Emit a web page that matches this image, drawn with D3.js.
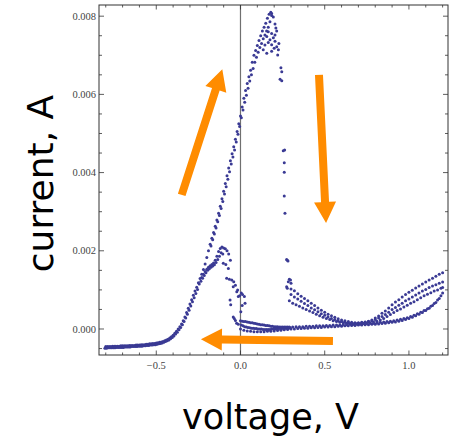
<!DOCTYPE html>
<html>
<head>
<meta charset="utf-8">
<script src="https://cdn.jsdelivr.net/npm/d3@7/dist/d3.min.js"></script>
<style>
  body { margin: 0; background: #fff; }
</style>
</head>
<body>
<div id="vis"></div>
<script>
// cyclic voltammogram, points (voltage V, current mA)

let baseline1 = [[-0.80,-0.45],[-0.79,-0.45],[-0.78,-0.45],[-0.77,-0.45],[-0.76,-0.44],[-0.75,-0.44],[-0.74,-0.44],[-0.73,-0.44],[-0.72,-0.44],[-0.71,-0.43],[-0.70,-0.43],[-0.69,-0.43],[-0.68,-0.43],[-0.67,-0.43],[-0.66,-0.42],[-0.65,-0.42],[-0.64,-0.42],[-0.63,-0.42],[-0.62,-0.41],[-0.61,-0.41],[-0.60,-0.41],[-0.59,-0.40],[-0.58,-0.40],[-0.57,-0.40],[-0.56,-0.39],[-0.55,-0.39],[-0.54,-0.38],[-0.53,-0.38],[-0.52,-0.37],[-0.51,-0.37],[-0.50,-0.36],[-0.49,-0.35],[-0.48,-0.34],[-0.47,-0.33],[-0.46,-0.32],[-0.45,-0.30],[-0.44,-0.28],[-0.43,-0.26],[-0.42,-0.23],[-0.41,-0.20],[-0.40,-0.16],[-0.39,-0.11],[-0.38,-0.06],[-0.37,0.00],[-0.36,0.06],[-0.35,0.13],[-0.34,0.21]];

let baseline2 = [[-0.805,-0.49],[-0.795,-0.49],[-0.785,-0.48],[-0.775,-0.48],[-0.765,-0.48],[-0.755,-0.48],[-0.745,-0.48],[-0.735,-0.47],[-0.725,-0.47],[-0.715,-0.47],[-0.705,-0.47],[-0.695,-0.47],[-0.685,-0.46],[-0.675,-0.46],[-0.665,-0.46],[-0.655,-0.46],[-0.645,-0.45],[-0.635,-0.45],[-0.625,-0.45],[-0.615,-0.45],[-0.605,-0.44],[-0.595,-0.44],[-0.585,-0.44],[-0.575,-0.43],[-0.565,-0.43],[-0.555,-0.42],[-0.545,-0.42],[-0.535,-0.41],[-0.525,-0.41],[-0.515,-0.40],[-0.505,-0.40],[-0.495,-0.39],[-0.485,-0.38],[-0.475,-0.37],[-0.465,-0.36],[-0.455,-0.34],[-0.445,-0.32],[-0.435,-0.30],[-0.425,-0.28],[-0.415,-0.25],[-0.405,-0.22],[-0.395,-0.18],[-0.385,-0.13],[-0.375,-0.08],[-0.365,-0.02],[-0.355,0.04],[-0.345,0.11],[-0.335,0.19]];

let riseUpper1 = [[-0.33,0.31],[-0.32,0.42],[-0.31,0.53],[-0.30,0.64],[-0.29,0.75],[-0.28,0.86],[-0.27,0.97],[-0.26,1.07],[-0.25,1.18],[-0.24,1.29],[-0.23,1.40],[-0.22,1.52],[-0.21,1.66],[-0.20,1.83],[-0.19,2.00],[-0.18,2.17],[-0.17,2.32],[-0.16,2.47],[-0.15,2.63],[-0.14,2.79],[-0.13,2.96],[-0.12,3.14],[-0.11,3.33],[-0.10,3.52],[-0.09,3.72],[-0.08,3.92],[-0.07,4.12],[-0.06,4.30],[-0.05,4.48],[-0.04,4.66],[-0.03,4.85],[-0.02,5.05],[-0.01,5.25],[0.00,5.45],[0.01,5.68],[0.02,5.90],[0.03,6.10],[0.04,6.28],[0.05,6.45],[0.06,6.62],[0.07,6.82],[0.08,7.00],[0.09,7.12],[0.10,7.25],[0.11,7.38],[0.12,7.50],[0.13,7.62],[0.14,7.72],[0.15,7.82],[0.16,7.95],[0.17,8.05],[0.18,8.10]];

let riseUpper2 = [[-0.175,2.12],[-0.165,2.28],[-0.155,2.43],[-0.145,2.58],[-0.135,2.74],[-0.125,2.90],[-0.115,3.08],[-0.105,3.26],[-0.095,3.45],[-0.085,3.64],[-0.075,3.83],[-0.065,4.02],[-0.055,4.22],[-0.045,4.40],[-0.035,4.58],[-0.025,4.78],[-0.015,4.98],[-0.005,5.18],[0.005,5.40],[0.015,5.60],[0.025,5.80],[0.035,5.98],[0.045,6.16],[0.055,6.34],[0.065,6.50],[0.075,6.66],[0.085,6.82],[0.095,6.95],[0.105,7.08],[0.115,7.20],[0.125,7.30],[0.135,7.42],[0.145,7.52],[0.155,7.62],[0.165,7.72],[0.175,7.86],[0.185,8.02]];

let peakCluster = [[0.185,8.07],[0.195,7.98],[0.205,7.80],[0.165,7.60],[0.185,7.56],[0.205,7.52],[0.156,7.48],[0.175,7.40],[0.165,7.33],[0.185,7.27],[0.205,7.36],[0.195,7.45],[0.215,7.22],[0.225,7.14],[0.221,7.01],[0.156,7.05],[0.185,7.10],[0.135,7.14],[0.145,7.26],[0.200,7.18],[0.215,7.62],[0.210,7.70],[0.228,7.30]];

let dropPoints = [[0.240,6.68],[0.245,6.58],[0.235,6.39],[0.245,6.35],[0.254,4.56],[0.262,4.58],[0.260,4.25],[0.260,4.01],[0.260,3.40],[0.264,2.96],[0.274,1.78],[0.282,1.74],[0.278,1.76],[0.290,1.27],[0.297,1.25],[0.284,1.21],[0.300,1.17],[0.274,1.08],[0.278,1.04]];

let riseSteep2 = [[-0.325,0.28],[-0.315,0.38],[-0.305,0.48],[-0.295,0.59],[-0.285,0.70],[-0.275,0.80],[-0.265,0.91],[-0.255,1.01]];

let lowerPeakA = [[-0.23,1.32],[-0.22,1.40],[-0.21,1.47],[-0.20,1.53],[-0.19,1.58],[-0.18,1.62],[-0.17,1.65],[-0.16,1.69],[-0.15,1.76],[-0.14,1.86],[-0.13,1.98],[-0.12,2.06],[-0.11,2.10],[-0.10,2.07],[-0.09,2.05],[-0.08,2.00],[-0.07,1.92],[-0.06,1.76]];

let lowerPeakB = [[-0.245,1.15],[-0.235,1.22],[-0.225,1.30],[-0.215,1.37],[-0.205,1.44],[-0.195,1.50],[-0.185,1.54],[-0.175,1.58],[-0.165,1.61],[-0.155,1.64],[-0.145,1.70],[-0.135,1.78],[-0.125,1.86],[-0.115,1.95],[-0.105,1.92]];

let lowerFall = [[-0.102,1.68],[-0.087,1.65],[-0.072,1.55],[-0.082,1.30],[-0.066,1.27],[-0.052,1.25],[-0.040,1.21],[-0.043,1.08],[-0.030,1.12],[-0.017,1.00],[-0.022,0.95],[-0.013,0.83],[-0.005,0.85],[0.005,0.92],[0.012,0.88],[0.023,0.83],[0.027,0.66],[0.010,0.60],[-0.062,0.74],[-0.058,0.62],[-0.043,0.31],[-0.037,0.27],[-0.030,0.22],[-0.023,0.15],[-0.013,0.12],[0.002,0.44]];

let nearZeroA = [[0.00,0.21],[0.01,0.20],[0.02,0.19],[0.03,0.19],[0.04,0.18],[0.05,0.17],[0.06,0.16],[0.07,0.16],[0.08,0.15],[0.09,0.14],[0.10,0.13],[0.11,0.12],[0.12,0.11],[0.13,0.11],[0.14,0.10],[0.15,0.09],[0.16,0.09],[0.17,0.08],[0.18,0.07],[0.19,0.07],[0.20,0.06],[0.21,0.06],[0.22,0.06],[0.23,0.05],[0.24,0.05],[0.25,0.05],[0.26,0.05],[0.27,0.05],[0.28,0.05],[0.29,0.05]];

let nearZeroB = [[0.005,0.10],[0.015,0.08],[0.025,0.06],[0.035,0.05],[0.045,0.04],[0.055,0.03],[0.065,0.02],[0.075,0.02],[0.085,0.01],[0.095,0.01],[0.105,0.00],[0.115,0.00],[0.125,0.00],[0.135,-0.01],[0.145,-0.01],[0.155,-0.01],[0.165,-0.01],[0.175,-0.01],[0.185,0.00],[0.195,0.00],[0.205,0.00],[0.215,0.00],[0.225,0.01],[0.235,0.01],[0.245,0.01],[0.255,0.02],[0.265,0.02],[0.275,0.02],[0.285,0.02],[0.295,0.03]];

let decayUpper = [[0.30,1.02],[0.32,0.98],[0.34,0.90],[0.36,0.84],[0.38,0.78],[0.40,0.72],[0.42,0.66],[0.44,0.60],[0.46,0.54],[0.48,0.48],[0.50,0.43],[0.52,0.38],[0.54,0.34],[0.56,0.30],[0.58,0.26],[0.60,0.23],[0.62,0.21],[0.64,0.19],[0.66,0.17],[0.68,0.16],[0.70,0.16],[0.72,0.17],[0.74,0.18],[0.76,0.20],[0.78,0.23],[0.80,0.28],[0.82,0.33],[0.84,0.40],[0.86,0.46],[0.88,0.54],[0.90,0.62],[0.92,0.69],[0.94,0.75],[0.96,0.82],[0.98,0.88],[1.00,0.94],[1.02,0.99],[1.04,1.05],[1.06,1.10],[1.08,1.15],[1.10,1.20],[1.12,1.25],[1.14,1.30],[1.16,1.35],[1.18,1.40],[1.20,1.44]];

let decayMiddle = [[0.30,0.88],[0.32,0.82],[0.34,0.77],[0.36,0.71],[0.38,0.65],[0.40,0.60],[0.42,0.54],[0.44,0.49],[0.46,0.44],[0.48,0.39],[0.50,0.35],[0.52,0.31],[0.54,0.27],[0.56,0.24],[0.58,0.21],[0.60,0.19],[0.62,0.17],[0.64,0.16],[0.66,0.15],[0.68,0.15],[0.70,0.15],[0.72,0.16],[0.74,0.17],[0.76,0.19],[0.78,0.21],[0.80,0.24],[0.82,0.28],[0.84,0.32],[0.86,0.37],[0.88,0.43],[0.90,0.50],[0.92,0.55],[0.94,0.61],[0.96,0.66],[0.98,0.72],[1.00,0.77],[1.02,0.82],[1.04,0.87],[1.06,0.92],[1.08,0.97],[1.10,1.01],[1.12,1.06],[1.14,1.10],[1.16,1.13],[1.18,1.17],[1.20,1.20]];

let decayLower = [[0.29,0.72],[0.31,0.66],[0.33,0.62],[0.35,0.58],[0.37,0.54],[0.39,0.50],[0.41,0.46],[0.43,0.42],[0.45,0.38],[0.47,0.34],[0.49,0.30],[0.51,0.27],[0.53,0.24],[0.55,0.21],[0.57,0.19],[0.59,0.17],[0.61,0.16],[0.63,0.15],[0.65,0.14],[0.67,0.13],[0.69,0.13],[0.71,0.13],[0.73,0.14],[0.75,0.15],[0.77,0.16],[0.79,0.18],[0.81,0.20],[0.83,0.23],[0.85,0.27],[0.87,0.32],[0.89,0.37],[0.91,0.42],[0.93,0.47],[0.95,0.51],[0.97,0.56],[0.99,0.61],[1.01,0.66],[1.03,0.70],[1.05,0.75],[1.07,0.80],[1.09,0.85],[1.11,0.89],[1.13,0.93],[1.15,0.97],[1.17,1.00],[1.19,1.04],[1.20,1.06]];

let return1 = [[1.20,0.92],[1.18,0.78],[1.16,0.68],[1.14,0.60],[1.12,0.53],[1.10,0.47],[1.08,0.42],[1.06,0.38],[1.04,0.34],[1.02,0.30],[1.00,0.27],[0.98,0.24],[0.96,0.22],[0.94,0.20],[0.92,0.18],[0.90,0.17],[0.88,0.16],[0.86,0.15],[0.84,0.14],[0.82,0.13],[0.80,0.12],[0.78,0.12],[0.76,0.11],[0.74,0.11],[0.72,0.10],[0.70,0.10],[0.68,0.09],[0.66,0.09],[0.64,0.08],[0.62,0.08],[0.60,0.07],[0.58,0.07],[0.56,0.06],[0.54,0.06],[0.52,0.05],[0.50,0.05],[0.48,0.04],[0.46,0.04],[0.44,0.03],[0.42,0.03],[0.40,0.02],[0.38,0.02],[0.36,0.01],[0.34,0.01],[0.32,0.00],[0.30,0.00],[0.28,-0.01],[0.26,-0.02],[0.24,-0.03],[0.22,-0.04],[0.20,-0.05],[0.18,-0.06],[0.16,-0.06],[0.14,-0.07],[0.12,-0.07],[0.10,-0.07],[0.08,-0.07],[0.06,-0.06],[0.04,-0.05],[0.02,-0.03],[0.00,0.00]];

let return2 = [[1.19,0.85],[1.17,0.74],[1.15,0.65],[1.13,0.58],[1.11,0.52],[1.09,0.47],[1.07,0.43],[1.05,0.39],[1.03,0.35],[1.01,0.32],[0.99,0.29],[0.97,0.27],[0.95,0.25],[0.93,0.23],[0.91,0.21],[0.89,0.20],[0.87,0.19],[0.85,0.18],[0.83,0.17],[0.81,0.16],[0.79,0.15],[0.77,0.15],[0.75,0.14],[0.73,0.14],[0.71,0.13],[0.69,0.13],[0.67,0.12],[0.65,0.12],[0.63,0.11],[0.61,0.11],[0.59,0.10],[0.57,0.10],[0.55,0.10],[0.53,0.09],[0.51,0.09],[0.49,0.08],[0.47,0.08],[0.45,0.08],[0.43,0.07],[0.41,0.07],[0.39,0.07],[0.37,0.06],[0.35,0.06],[0.33,0.06],[0.31,0.05]];

// ticks
let xMajor = [-0.5, 0, 0.5, 1.0];
let xLabels = ["\u22120.5", "0.0", "0.5", "1.0"];
let xMinor = [-0.8,-0.7,-0.6,-0.4,-0.3,-0.2,-0.1,0.1,0.2,0.3,0.4,0.6,0.7,0.8,0.9,1.1,1.2];
let yMajor = [0, 2, 4, 6, 8];
let yLabels = ["0.000", "0.002", "0.004", "0.006", "0.008"];
let yMinor = [-0.5,0.5,1,1.5,2.5,3,3.5,4.5,5,5.5,6.5,7,7.5];

// arrows: [tail, tip] in data units
let arrows = [
  [[-0.349, 3.43], [-0.108, 6.64]],
  [[0.466, 6.50], [0.508, 2.71]],
  [[0.549, -0.31], [-0.235, -0.26]]
];

let allPoints = [].concat(baseline1, baseline2, riseUpper1, riseUpper2, peakCluster, dropPoints,
  riseSteep2, lowerPeakA, lowerPeakB, lowerFall, nearZeroA, nearZeroB,
  decayUpper, decayMiddle, decayLower, return1, return2);

let W = 452, H = 437;
let frame = { left: 99, right: 448, top: 5, bottom: 355 };

let svg = d3.select('#vis')
  .append('svg')
  .attr('width', W)
  .attr('height', H)
  .style('background-color', 'white');

let x = d3.scaleLinear().domain([-0.84, 1.232]).range([frame.left, frame.right]);
let y = d3.scaleLinear().domain([-0.665, 8.286]).range([frame.bottom, frame.top]);

svg.append('defs').append('clipPath').attr('id', 'clip')
  .append('rect')
  .attr('x', frame.left).attr('y', frame.top)
  .attr('width', frame.right - frame.left).attr('height', frame.bottom - frame.top);

// zero line
svg.append('line')
  .attr('x1', x(0)).attr('x2', x(0))
  .attr('y1', frame.top).attr('y2', frame.bottom)
  .attr('stroke', '#707070')
  .attr('stroke-width', 1.2);

// points
svg.append('g')
  .attr('clip-path', 'url(#clip)')
  .selectAll('circle')
  .data(allPoints)
  .join('circle')
  .attr('cx', d => x(d[0]))
  .attr('cy', d => y(d[1]))
  .attr('r', 1.5)
  .attr('fill', '#3a3a94');

// frame
let frameColor = '#333';
svg.append('rect')
  .attr('x', frame.left).attr('y', frame.top)
  .attr('width', frame.right - frame.left).attr('height', frame.bottom - frame.top)
  .attr('fill', 'none')
  .attr('stroke', frameColor)
  .attr('stroke-width', 1);

let ticks = svg.append('g').attr('stroke', frameColor).attr('stroke-width', 0.8);
function xTick(v, len) {
  ticks.append('line').attr('x1', x(v)).attr('x2', x(v)).attr('y1', frame.bottom).attr('y2', frame.bottom - len);
  ticks.append('line').attr('x1', x(v)).attr('x2', x(v)).attr('y1', frame.top).attr('y2', frame.top + len);
}
function yTick(v, len) {
  ticks.append('line').attr('y1', y(v)).attr('y2', y(v)).attr('x1', frame.left).attr('x2', frame.left + len);
  ticks.append('line').attr('y1', y(v)).attr('y2', y(v)).attr('x1', frame.right).attr('x2', frame.right - len);
}
xMajor.forEach(v => xTick(v, 4.5));
xMinor.forEach(v => xTick(v, 2.5));
yMajor.forEach(v => yTick(v, 5));
yMinor.forEach(v => yTick(v, 3));

// tick labels
let tickFont = "'Liberation Serif', 'Times New Roman', serif";
svg.append('g')
  .selectAll('text')
  .data(xMajor)
  .join('text')
  .attr('x', d => x(d))
  .attr('y', 368.5)
  .attr('text-anchor', 'middle')
  .style('font-family', tickFont)
  .style('font-size', '10.5px')
  .attr('fill', '#444')
  .text((d, i) => xLabels[i]);

svg.append('g')
  .selectAll('text')
  .data(yMajor)
  .join('text')
  .attr('x', 96)
  .attr('y', d => y(d) + 3.6)
  .attr('text-anchor', 'end')
  .style('font-family', tickFont)
  .style('font-size', '10.5px')
  .attr('fill', '#444')
  .text((d, i) => yLabels[i]);

// axis titles
svg.append('text')
  .attr('x', 270.5)
  .attr('y', 428.5)
  .attr('text-anchor', 'middle')
  .style('font-family', "'DejaVu Sans', sans-serif")
  .style('font-size', '35px')
  .attr('fill', '#000')
  .text('voltage, V');

svg.append('text')
  .attr('transform', 'translate(53,183.5) rotate(-90)')
  .attr('text-anchor', 'middle')
  .style('font-family', "'DejaVu Sans', sans-serif")
  .style('font-size', '36px')
  .attr('fill', '#000')
  .text('current, A');

// orange arrows
function arrowPath(a) {
  let t = [x(a[0][0]), y(a[0][1])], p = [x(a[1][0]), y(a[1][1])];
  let dx = p[0] - t[0], dy = p[1] - t[1];
  let len = Math.sqrt(dx * dx + dy * dy);
  let ux = dx / len, uy = dy / len, nx = -uy, ny = ux;
  let sw = 4, hw = 11, hl = 21;
  let bx = p[0] - ux * hl, by = p[1] - uy * hl;
  let pts = [
    [t[0] + nx * sw, t[1] + ny * sw],
    [bx + nx * sw, by + ny * sw],
    [bx + nx * hw, by + ny * hw],
    p,
    [bx - nx * hw, by - ny * hw],
    [bx - nx * sw, by - ny * sw],
    [t[0] - nx * sw, t[1] - ny * sw]
  ];
  return 'M' + pts.map(q => q.join(',')).join('L') + 'Z';
}

svg.append('g')
  .selectAll('path')
  .data(arrows)
  .join('path')
  .attr('d', arrowPath)
  .attr('fill', '#ff8c00');
</script>
</body>
</html>
